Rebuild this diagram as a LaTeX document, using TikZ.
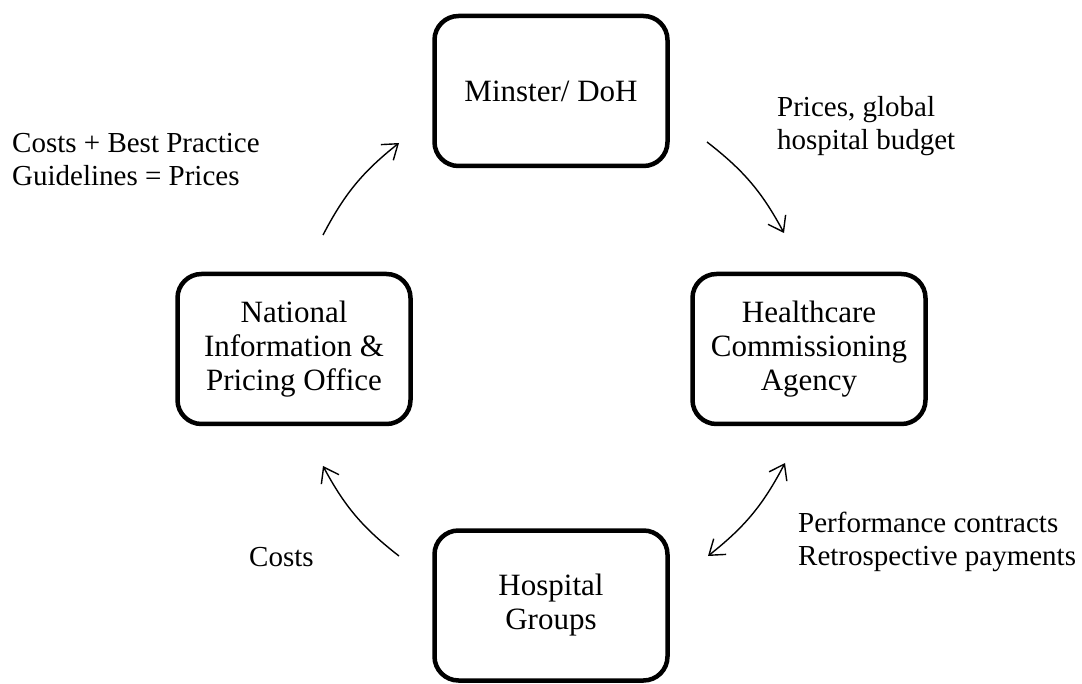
\documentclass[tikz,border=0pt]{standalone}
\usepackage{fontspec}
\setmainfont{Liberation Serif}
\usetikzlibrary{arrows.meta}
\begin{document}
\begin{tikzpicture}[x=1pt,y=1pt,
  >={Straight Barb[length=14pt,width=20pt]},
  txt/.style={font=\fontsize{29}{33}\selectfont},
  agent/.style={draw, line width=4.5pt, rounded corners=24pt,
    minimum width=233pt, minimum height=150pt, align=center, inner sep=0pt,
    font=\fontsize{31}{34}\selectfont},
  note/.style={txt, align=left, anchor=north west, inner sep=0pt},
  flow/.style={line width=1.4pt, bend left=12},
]
\useasboundingbox (0,0) rectangle (1082,-684);

% the four organisations
\node[agent] (doh)  at (551,-91)    {Minster/ DoH};
\node[agent] (nipo) at (294,-349)   {National\\Information \&\\Pricing Office};
\node[agent] (hca)  at (809,-349)   {Healthcare\\Commissioning\\Agency};
\node[agent] (hg)   at (551,-605.5) {Hospital\\Groups};

% free ends of the flow arrows
\coordinate (nipoOut) at (323,-235);
\coordinate (dohIn)   at (399,-143);
\coordinate (dohOut)  at (707,-142);
\coordinate (hcaIn)   at (784,-233);
\coordinate (hcaEnd)  at (785,-463);
\coordinate (hgEnd)   at (708,-556);
\coordinate (hgOut)   at (399,-556);
\coordinate (nipoIn)  at (323,-466);

% flows between them
\draw[flow,->]  (nipoOut) to (dohIn);
\draw[flow,->]  (dohOut) to (hcaIn);
\draw[flow,<->] (hcaEnd) to (hgEnd);
\draw[flow,->]  (hgOut) to (nipoIn);

% flow labels
\node[note] (lblPrices) at (12,-133.5) {Costs + Best Practice\\Guidelines = Prices};
\node[note] (lblBudget) at (777,-96) {Prices, global\\hospital budget};
\node[note] (lblContracts) at (798,-512) {Performance contracts\\Retrospective payments};
\node[txt, anchor=base west, inner sep=0pt] (lblCosts) at (249,-566) {Costs};
\end{tikzpicture}
\end{document}
